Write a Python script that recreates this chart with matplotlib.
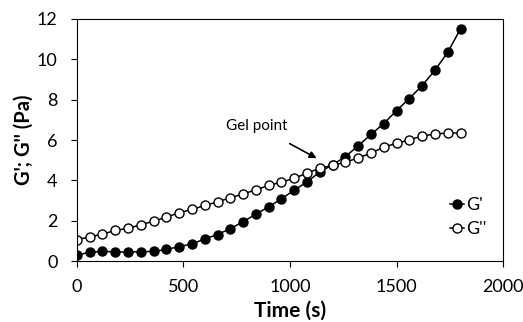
import matplotlib
matplotlib.use("Agg")
import matplotlib.pyplot as plt
import numpy as np

plt.rcParams['font.family'] = ['Lato', 'DejaVu Sans']

# time (s)
time = [0, 60, 120, 180, 240, 300, 360, 420, 480, 540,
        600, 660, 720, 780, 840, 900, 960, 1020, 1080, 1140,
        1200, 1260, 1320, 1380, 1440, 1500, 1560, 1620, 1680, 1740, 1800]

# storage modulus G' (Pa)
g1 = [0.28, 0.45, 0.48, 0.46, 0.45, 0.47, 0.48, 0.58, 0.72, 0.85,
      1.10, 1.32, 1.61, 1.95, 2.33, 2.69, 3.09, 3.52, 3.93, 4.42,
      4.78, 5.18, 5.72, 6.28, 6.82, 7.46, 8.06, 8.70, 9.46, 10.35, 11.51]

# loss modulus G'' (Pa)
g2 = [1.07, 1.20, 1.34, 1.52, 1.63, 1.80, 1.98, 2.18, 2.40, 2.56,
      2.76, 2.93, 3.15, 3.32, 3.54, 3.75, 3.92, 4.10, 4.37, 4.60,
      4.75, 4.90, 5.12, 5.35, 5.65, 5.84, 6.01, 6.20, 6.30, 6.35, 6.35]

fig = plt.figure(figsize=(5.23, 3.22), dpi=100)
ax = fig.add_axes([0.147, 0.189, 0.815, 0.752])

ax.plot(time, g1, "k-", marker="o", ms=6.5, lw=1.1, label="G'")
ax.plot(time, g2, "k-", marker="o", ms=6.5, lw=1.1, mfc="white", label="G''")

ax.annotate("Gel point", xy=(1125, 5.1), xytext=(845, 6.7),
            ha="center", va="center", fontsize=11,
            arrowprops=dict(arrowstyle="-|>", color="k", lw=1.2,
                            shrinkA=12, shrinkB=0, mutation_scale=10))

ax.set_xlim(0, 2000)
ax.set_ylim(0, 12)
ax.set_xticks([0, 500, 1000, 1500, 2000])
ax.set_yticks([0, 2, 4, 6, 8, 10, 12])
ax.tick_params(direction="out", length=4, width=0.8, labelsize=13)
ax.tick_params(axis="x", pad=9)
ax.tick_params(axis="y", pad=10)
ax.set_xlabel("Time (s)", fontsize=15, fontweight="bold", labelpad=4)
ax.set_ylabel("G'; G'' (Pa)", fontsize=14.5, fontweight="bold", labelpad=2)

ax.legend(loc="lower right", frameon=False, prop={"size": 13},
          handlelength=0.8, handletextpad=0.1, borderaxespad=0.4,
          labelspacing=0.45, bbox_to_anchor=(0.995, 0.04))

fig.savefig("out.png", dpi=100)
